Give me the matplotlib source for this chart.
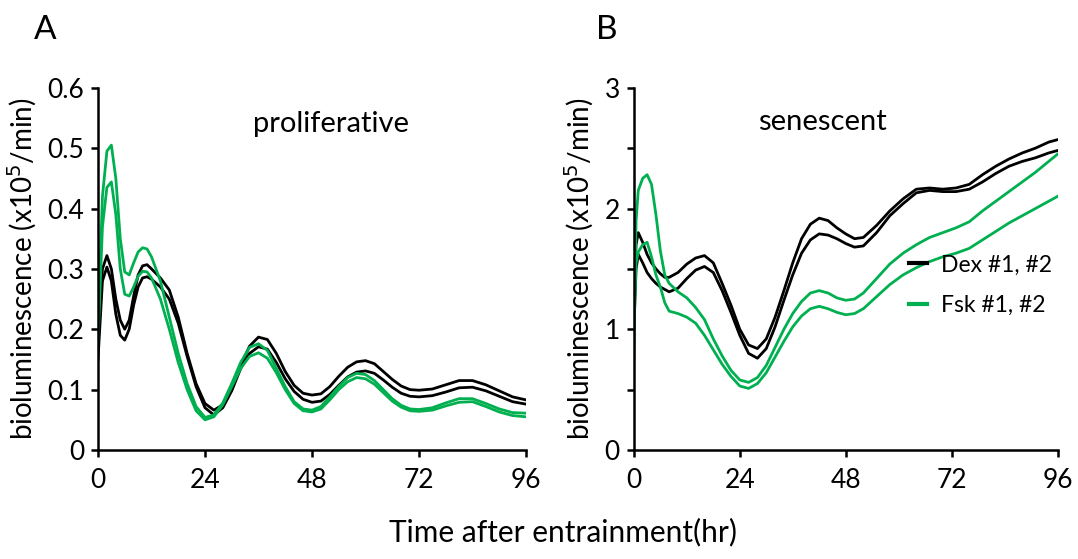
#!/usr/bin/env python3
# -*- coding: utf-8 -*-

"""
Bioluminescence traces after entrainment, proliferative vs senescent cells
"""

import numpy as np
import matplotlib as mpl
mpl.use("Agg")
import matplotlib.pyplot as plt
from matplotlib.ticker import MultipleLocator

plt.rcParams['font.family'] = ['Lato', 'DejaVu Sans']

GREEN = '#00b050'

# Panel A: proliferative
tA = [0, 1, 2, 3, 4, 5, 6, 7, 8, 9, 10, 11, 12, 14, 16, 18, 20, 22, 24, 26, 28, 30,
      32, 34, 36, 38, 40, 42, 44, 46, 48, 50, 52, 54, 56, 58, 60, 62, 64, 66, 68, 70,
      72, 75, 78, 81, 84, 87, 90, 93, 96]
dexA1 = [0.17, 0.30, 0.322, 0.30, 0.25, 0.215, 0.20, 0.215, 0.255, 0.29, 0.305, 0.307,
         0.30, 0.285, 0.265, 0.22, 0.16, 0.11, 0.077, 0.066, 0.075, 0.10, 0.14, 0.172,
         0.187, 0.183, 0.16, 0.13, 0.107, 0.094, 0.091, 0.093, 0.105, 0.122, 0.137,
         0.146, 0.148, 0.143, 0.13, 0.117, 0.106, 0.10, 0.099, 0.101, 0.108, 0.115,
         0.115, 0.108, 0.098, 0.088, 0.083]
dexA2 = [0.15, 0.28, 0.303, 0.28, 0.225, 0.19, 0.182, 0.20, 0.24, 0.27, 0.285, 0.287,
         0.283, 0.27, 0.25, 0.21, 0.155, 0.105, 0.07, 0.058, 0.07, 0.098, 0.135, 0.16,
         0.171, 0.167, 0.145, 0.118, 0.097, 0.084, 0.079, 0.081, 0.092, 0.107, 0.121,
         0.129, 0.131, 0.127, 0.116, 0.104, 0.094, 0.089, 0.088, 0.09, 0.096, 0.103,
         0.104, 0.098, 0.089, 0.08, 0.076]
fskA1 = [0.20, 0.42, 0.495, 0.505, 0.45, 0.35, 0.295, 0.29, 0.31, 0.328, 0.335, 0.333,
         0.32, 0.28, 0.22, 0.16, 0.11, 0.072, 0.054, 0.058, 0.078, 0.11, 0.145, 0.17,
         0.176, 0.165, 0.135, 0.105, 0.08, 0.068, 0.066, 0.072, 0.088, 0.105, 0.12,
         0.127, 0.125, 0.115, 0.10, 0.085, 0.074, 0.068, 0.067, 0.07, 0.078, 0.085,
         0.085, 0.077, 0.068, 0.062, 0.061]
fskA2 = [0.18, 0.37, 0.435, 0.444, 0.39, 0.30, 0.258, 0.255, 0.27, 0.288, 0.296, 0.295,
         0.285, 0.25, 0.20, 0.145, 0.10, 0.065, 0.05, 0.055, 0.075, 0.105, 0.135, 0.155,
         0.161, 0.152, 0.128, 0.10, 0.077, 0.065, 0.063, 0.068, 0.083, 0.10, 0.113,
         0.12, 0.118, 0.109, 0.095, 0.081, 0.071, 0.065, 0.064, 0.066, 0.073, 0.079,
         0.08, 0.072, 0.063, 0.057, 0.055]

# Panel B: senescent
tB = [0, 0.5, 1, 2, 3, 4, 5, 6, 7, 8, 10, 12, 14, 16, 18, 20, 22, 24, 26, 28, 30, 32,
      34, 36, 38, 40, 42, 44, 46, 48, 50, 52, 55, 58, 61, 64, 67, 70, 73, 76, 79, 82,
      85, 88, 91, 94, 96]
dexB1 = [1.2, 1.7, 1.8, 1.72, 1.62, 1.55, 1.5, 1.46, 1.43, 1.43, 1.47, 1.54, 1.59,
         1.61, 1.55, 1.38, 1.2, 1.0, 0.87, 0.84, 0.92, 1.1, 1.32, 1.55, 1.75, 1.87,
         1.92, 1.9, 1.84, 1.79, 1.75, 1.76, 1.86, 1.98, 2.08, 2.16, 2.17, 2.16, 2.17,
         2.2, 2.28, 2.35, 2.41, 2.46, 2.5, 2.55, 2.57]
dexB2 = [1.0, 1.5, 1.62, 1.55, 1.47, 1.42, 1.38, 1.35, 1.33, 1.31, 1.34, 1.42, 1.49,
         1.52, 1.47, 1.32, 1.14, 0.95, 0.8, 0.76, 0.84, 1.02, 1.24, 1.45, 1.63, 1.74,
         1.79, 1.78, 1.75, 1.71, 1.68, 1.69, 1.8, 1.94, 2.04, 2.13, 2.15, 2.14, 2.14,
         2.16, 2.22, 2.29, 2.35, 2.39, 2.42, 2.46, 2.48]
fskB1 = [0.75, 1.9, 2.15, 2.25, 2.28, 2.2, 1.95, 1.65, 1.45, 1.38, 1.31, 1.26, 1.18,
         1.08, 0.92, 0.78, 0.66, 0.58, 0.56, 0.6, 0.7, 0.85, 1.0, 1.13, 1.23, 1.3,
         1.32, 1.3, 1.26, 1.24, 1.25, 1.3, 1.42, 1.54, 1.63, 1.7, 1.76, 1.8, 1.84,
         1.89, 1.98, 2.06, 2.14, 2.22, 2.3, 2.39, 2.45]
fskB2 = [1.1, 1.55, 1.64, 1.7, 1.72, 1.6, 1.45, 1.35, 1.22, 1.15, 1.13, 1.1, 1.05,
         0.95, 0.83, 0.71, 0.61, 0.53, 0.51, 0.55, 0.64, 0.77, 0.9, 1.02, 1.11, 1.17,
         1.19, 1.17, 1.14, 1.12, 1.13, 1.17, 1.27, 1.37, 1.45, 1.51, 1.56, 1.6, 1.63,
         1.67, 1.74, 1.81, 1.88, 1.94, 2.0, 2.06, 2.1]

xticks = [0, 24, 48, 72, 96]
ylabel = 'bioluminescence (x10$^5$/min)'


def style_axis(ax):
    ax.spines['top'].set_visible(False)
    ax.spines['right'].set_visible(False)
    ax.spines['left'].set_linewidth(1.8)
    ax.spines['bottom'].set_linewidth(1.8)
    ax.tick_params(axis='both', which='both', direction='out', width=1.8,
                   labelsize=19)
    ax.tick_params(axis='both', which='major', length=5)
    ax.tick_params(axis='y', which='minor', length=5)
    ax.tick_params(axis='x', pad=8)
    ax.tick_params(axis='y', pad=5)
    ax.set_xlim(0, 96)
    ax.set_xticks(xticks)
    ax.set_ylabel(ylabel, fontsize=20, labelpad=6)


if __name__ == "__main__":
    fig = plt.figure(figsize=(10.78, 5.59), dpi=100)
    ax1 = fig.add_axes([0.0909, 0.195, 0.397, 0.648])
    ax2 = fig.add_axes([0.588, 0.195, 0.393, 0.648])

    lw = 2.0
    ax1.plot(tA, dexA1, color='black', lw=lw)
    ax1.plot(tA, dexA2, color='black', lw=lw)
    ax1.plot(tA, fskA1, color=GREEN, lw=lw)
    ax1.plot(tA, fskA2, color=GREEN, lw=lw)
    style_axis(ax1)
    ax1.set_ylim(0, 0.6)
    ax1.set_yticks(np.arange(0, 0.61, 0.1))
    ax1.set_yticklabels(['0', '0.1', '0.2', '0.3', '0.4', '0.5', '0.6'])
    ax1.text(0.545, 0.9, 'proliferative', transform=ax1.transAxes, fontsize=21,
             ha='center', va='center')

    l1, = ax2.plot(tB, dexB1, color='black', lw=lw)
    ax2.plot(tB, dexB2, color='black', lw=lw)
    l2, = ax2.plot(tB, fskB1, color=GREEN, lw=lw)
    ax2.plot(tB, fskB2, color=GREEN, lw=lw)
    style_axis(ax2)
    ax2.set_ylim(0, 3)
    ax2.set_yticks([0, 1, 2, 3])
    ax2.yaxis.set_minor_locator(MultipleLocator(0.5))
    ax2.text(0.445, 0.905, 'senescent', transform=ax2.transAxes, fontsize=21,
             ha='center', va='center')
    leg = ax2.legend([l1, l2], ['Dex #1, #2', 'Fsk #1, #2'], loc='center right',
                     bbox_to_anchor=(1.035, 0.455), frameon=False, fontsize=16.5,
                     handlelength=0.8, handletextpad=0.6, labelspacing=0.85)
    for h in leg.get_lines():
        h.set_linewidth(3)

    fig.text(0.042, 0.947, 'A', fontsize=24, ha='center', va='center')
    fig.text(0.563, 0.947, 'B', fontsize=24, ha='center', va='center')
    fig.text(0.522, 0.048, 'Time after entrainment(hr)', fontsize=21.5,
             ha='center', va='center')

    plt.savefig('out.png', dpi=100)
